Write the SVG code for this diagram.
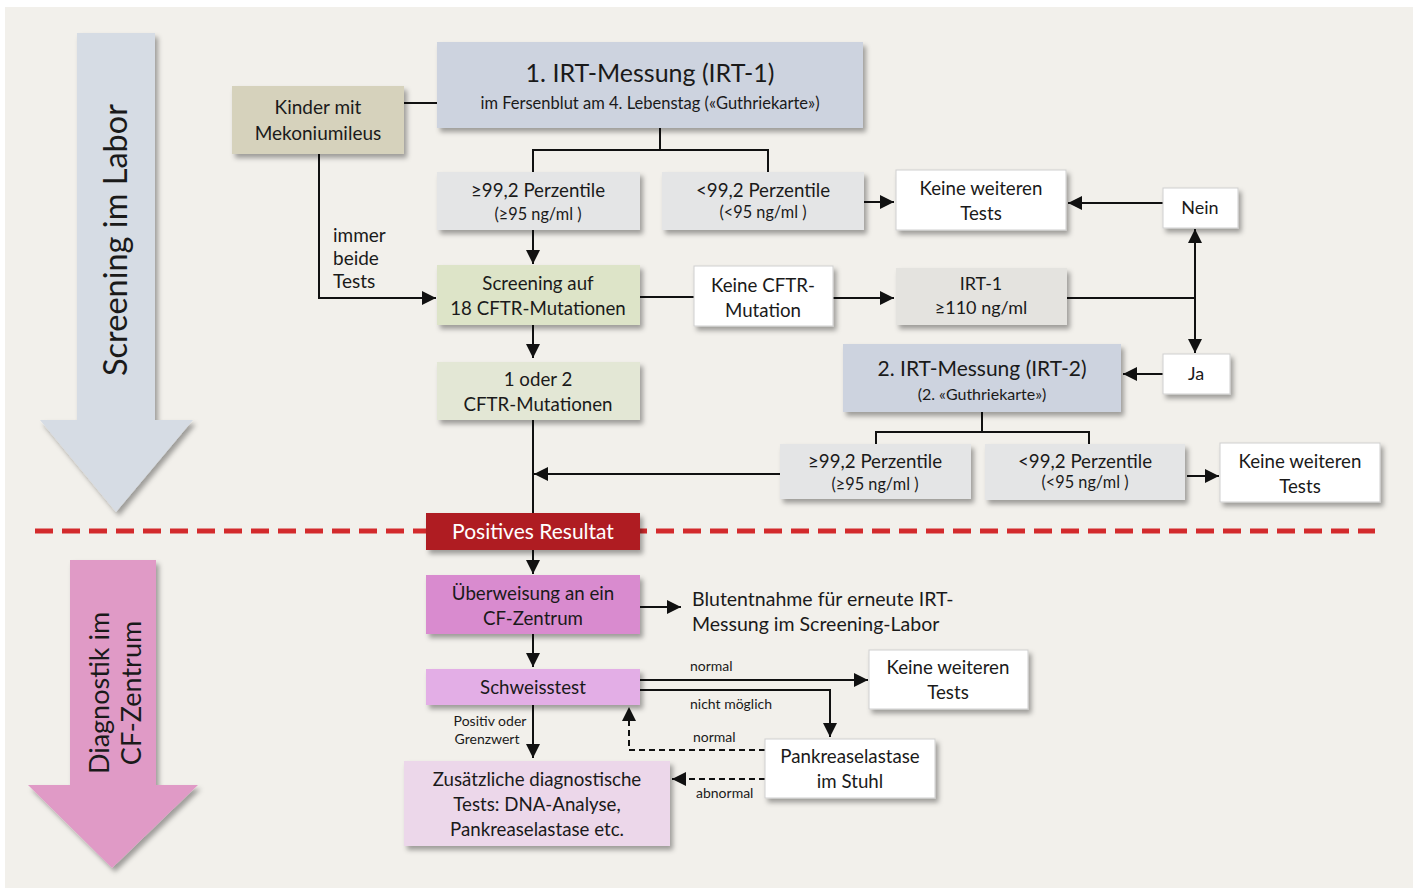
<svg xmlns="http://www.w3.org/2000/svg" width="1416" height="888" viewBox="0 0 1416 888">
<defs>
<filter id="sh" x="-10%" y="-10%" width="125%" height="140%">
<feDropShadow dx="3" dy="4" stdDeviation="2.5" flood-color="#000" flood-opacity="0.35"/>
</filter>
<marker id="a" viewBox="0 0 12 12" refX="12" refY="6" markerWidth="14" markerHeight="14" markerUnits="userSpaceOnUse" orient="auto">
<path d="M0,0 L12,6 L0,12 z" fill="#111"/>
</marker>
<style>
text{font-family:Lato,"Open Sans","Liberation Sans",sans-serif;fill:#1a1a1a;text-anchor:middle}
.b{filter:url(#sh)}
.t18{font-size:18.7px}
.t17{font-size:18px}
.t15{font-size:16.3px}
.t12{font-size:14px}
.l{text-anchor:start}
.c{fill:none;stroke:#111;stroke-width:2}
.d{fill:none;stroke:#111;stroke-width:2;stroke-dasharray:6 4}
.white{fill:#ffffff;stroke:#cfcfcf;stroke-width:1}
.grey{fill:#e4e5e6}
.blue{fill:#cdd3df}
</style>
</defs>
<rect x="0" y="0" width="1416" height="888" fill="#ffffff"/>
<rect x="5" y="7" width="1408" height="881" fill="#f2f0eb"/>

<g id="phase-screening">
<path class="b" d="M77,33 H155 V420 H193 L116,512 L40,420 H77 Z" fill="#d6dce4"/>
<text transform="translate(127,240) rotate(-90)" style="font-size:32.5px">Screening im Labor</text>
</g>
<g id="phase-diagnostik">
<path class="b" d="M70,560 H156 V785 H198 L112,868 L28,785 H70 Z" fill="#e09ac6"/>
<text transform="translate(109,693) rotate(-90)" style="font-size:27px">Diagnostik im</text>
<text transform="translate(141,693) rotate(-90)" style="font-size:27px">CF-Zentrum</text>
</g>

<line x1="35" y1="531" x2="1375" y2="531" stroke="#d32a2c" stroke-width="5" stroke-dasharray="18 9"/>

<g id="connectors">
<line class="c" x1="404" y1="103" x2="437" y2="103"/>
<path class="c" d="M660,128 V150 M533,150 H768 M533,149 V172 M768,149 V172"/>
<line class="c" x1="864" y1="202" x2="894" y2="202" marker-end="url(#a)"/>
<line class="c" x1="1163" y1="203" x2="1068" y2="203" marker-end="url(#a)"/>
<line class="c" x1="533" y1="230" x2="533" y2="264" marker-end="url(#a)"/>
<path class="c" d="M319,154 V298 H436" marker-end="url(#a)"/>
<line class="c" x1="640" y1="297" x2="694" y2="297"/>
<line class="c" x1="833" y1="298" x2="894" y2="298" marker-end="url(#a)"/>
<line class="c" x1="1067" y1="298" x2="1195" y2="298"/>
<line class="c" x1="1195" y1="298" x2="1195" y2="229" marker-end="url(#a)"/>
<line class="c" x1="1195" y1="298" x2="1195" y2="353" marker-end="url(#a)"/>
<line class="c" x1="1163" y1="374" x2="1123" y2="374" marker-end="url(#a)"/>
<line class="c" x1="533" y1="325" x2="533" y2="358" marker-end="url(#a)"/>
<path class="c" d="M982,412 V432 M876,432 H1089 M876,431 V444 M1089,431 V444"/>
<line class="c" x1="1187" y1="476" x2="1219" y2="476" marker-end="url(#a)"/>
<line class="c" x1="780" y1="474" x2="534" y2="474" marker-end="url(#a)"/>
<line class="c" x1="533" y1="420" x2="533" y2="514"/>
<line class="c" x1="533" y1="550" x2="533" y2="574" marker-end="url(#a)"/>
<line class="c" x1="640" y1="607" x2="681" y2="607" marker-end="url(#a)"/>
<line class="c" x1="533" y1="634" x2="533" y2="667" marker-end="url(#a)"/>
<line class="c" x1="640" y1="680" x2="868" y2="680" marker-end="url(#a)"/>
<path class="c" d="M640,690 H830 V737" marker-end="url(#a)"/>
<path class="d" d="M765,750 H629 V707" marker-end="url(#a)"/>
<line class="d" x1="765" y1="779" x2="672" y2="779" marker-end="url(#a)"/>
<line class="c" x1="533" y1="705" x2="533" y2="758" marker-end="url(#a)"/>
<text class="l" style="font-size:19px" x="333" y="242">immer</text>
<text class="l" style="font-size:19px" x="333" y="265">beide</text>
<text class="l" style="font-size:19px" x="333" y="288">Tests</text>
<text class="t12 l" x="690" y="671">normal</text>
<text class="t12 l" x="690" y="709">nicht möglich</text>
<text class="t12 l" x="693" y="742">normal</text>
<text class="t12 l" x="696" y="798">abnormal</text>
<text class="t12" x="490" y="726">Positiv oder</text>
<text class="t12" x="487" y="744">Grenzwert</text>
</g>

<g id="irt1">
<rect class="b blue" x="437" y="42" width="426" height="86"/>
<text x="650" y="82" style="font-size:25px">1. IRT-Messung (IRT-1)</text>
<text x="650" y="109" style="font-size:16.5px">im Fersenblut am 4. Lebenstag («Guthriekarte»)</text>
</g>
<g id="kinder">
<rect class="b" x="232" y="86" width="172" height="68" fill="#d6d2bc"/>
<text style="font-size:19px" x="318" y="114">Kinder mit</text>
<text style="font-size:19px" x="318" y="140">Mekoniumileus</text>
</g>
<g id="p1-hoch">
<rect class="b grey" x="437" y="172" width="203" height="58"/>
<text class="t18" x="538" y="197">≥99,2 Perzentile</text>
<text class="t15" x="538" y="220">(≥95 ng/ml )</text>
</g>
<g id="p1-tief">
<rect class="b grey" x="662" y="172" width="202" height="58"/>
<text class="t18" x="763" y="197">&lt;99,2 Perzentile</text>
<text class="t15" x="763" y="218">(&lt;95 ng/ml )</text>
</g>
<g id="keine1">
<rect class="b white" x="896" y="170" width="170" height="60"/>
<text class="t18" x="981" y="195">Keine weiteren</text>
<text class="t18" x="981" y="220">Tests</text>
</g>
<g id="nein">
<rect class="b white" x="1163" y="188" width="75" height="40"/>
<text class="t17" x="1200" y="214">Nein</text>
</g>
<g id="screening">
<rect class="b" x="437" y="265" width="203" height="60" fill="#dde4c8"/>
<text class="t18" x="538" y="290">Screening auf</text>
<text class="t18" x="538" y="315">18 CFTR-Mutationen</text>
</g>
<g id="keine-cftr">
<rect class="b white" x="694" y="266" width="139" height="60"/>
<text class="t18" x="763" y="292">Keine CFTR-</text>
<text class="t18" x="763" y="317">Mutation</text>
</g>
<g id="irt1-110">
<rect class="b" x="896" y="268" width="171" height="57" fill="#e4e3df"/>
<text class="t17" x="981" y="290">IRT-1</text>
<text class="t17" x="981" y="314">≥110 ng/ml</text>
</g>
<g id="ja">
<rect class="b white" x="1163" y="354" width="67" height="40"/>
<text class="t17" x="1196" y="380">Ja</text>
</g>
<g id="irt2">
<rect class="b blue" x="843" y="344" width="278" height="68"/>
<text x="982" y="376" style="font-size:21px">2. IRT-Messung (IRT-2)</text>
<text x="982" y="400" style="font-size:16px">(2. «Guthriekarte»)</text>
</g>
<g id="mutationen">
<rect class="b" x="437" y="362" width="203" height="58" fill="#e3e7d5"/>
<text class="t18" x="538" y="386">1 oder 2</text>
<text class="t18" x="538" y="411">CFTR-Mutationen</text>
</g>
<g id="p2-hoch">
<rect class="b grey" x="780" y="444" width="191" height="55"/>
<text class="t18" x="875" y="468">≥99,2 Perzentile</text>
<text class="t15" x="875" y="490">(≥95 ng/ml )</text>
</g>
<g id="p2-tief">
<rect class="b grey" x="985" y="444" width="200" height="56"/>
<text class="t18" x="1085" y="468">&lt;99,2 Perzentile</text>
<text class="t15" x="1085" y="488">(&lt;95 ng/ml )</text>
</g>
<g id="keine2">
<rect class="b white" x="1220" y="443" width="160" height="59"/>
<text class="t18" x="1300" y="468">Keine weiteren</text>
<text class="t18" x="1300" y="493">Tests</text>
</g>
<g id="positiv">
<rect class="b" x="426" y="513" width="214" height="37" fill="#af1c22"/>
<text x="533" y="539" style="font-size:21px;fill:#ffffff">Positives Resultat</text>
</g>
<g id="ueberweisung">
<rect class="b" x="426" y="575" width="214" height="59" fill="#d98bcf"/>
<text class="t18" x="533" y="600">Überweisung an ein</text>
<text class="t18" x="533" y="625">CF-Zentrum</text>
</g>
<g id="blutentnahme">
<text class="l" style="font-size:19.5px" x="692" y="606">Blutentnahme für erneute IRT-</text>
<text class="l" style="font-size:19.5px" x="692" y="631">Messung im Screening-Labor</text>
</g>
<g id="schweisstest">
<rect class="b" x="426" y="669" width="214" height="36" fill="#e3aee6"/>
<text class="t18" x="533" y="694">Schweisstest</text>
</g>
<g id="keine3">
<rect class="b white" x="869" y="650" width="159" height="59"/>
<text class="t18" x="948" y="674">Keine weiteren</text>
<text class="t18" x="948" y="699">Tests</text>
</g>
<g id="pankreas">
<rect class="b white" x="765" y="739" width="170" height="59"/>
<text class="t18" x="850" y="763">Pankreaselastase</text>
<text class="t18" x="850" y="788">im Stuhl</text>
</g>
<g id="zusaetzlich">
<rect class="b" x="404" y="761" width="266" height="85" fill="#ecd7ea"/>
<text class="t18" x="537" y="786">Zusätzliche diagnostische</text>
<text class="t18" x="537" y="811">Tests: DNA-Analyse,</text>
<text class="t18" x="537" y="836">Pankreaselastase etc.</text>
</g>
</svg>
